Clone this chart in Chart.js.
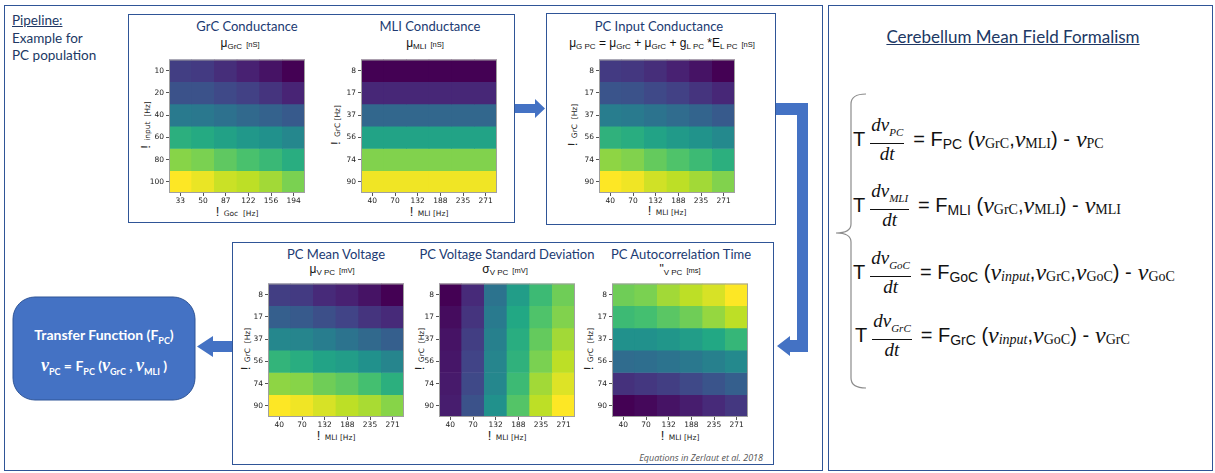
<!DOCTYPE html>
<html>
<head>
<meta charset="utf-8">
<script src="https://cdn.jsdelivr.net/npm/chart.js@4.4.1/dist/chart.umd.min.js"></script>
<style>
  body { margin:0; width:1215px; height:473px; position:relative; overflow:hidden; background:#fff;
         font-family: Lato, "Open Sans", sans-serif; color:#203864; }
  .box { position:absolute; box-sizing:border-box; border:1px solid #2f5597; }
  .txt { position:absolute; white-space:nowrap; }
  .ttl { position:absolute; white-space:nowrap; font-size:13px; color:#203a72; transform:translateX(-50%); }
  .sub { position:absolute; white-space:nowrap; font-size:12px; color:#111; transform:translateX(-50%); font-family:"Liberation Sans", Arial, sans-serif; }
  .sub small { font-size:8px; position:relative; top:2px; }
  .sub .u { font-size:7.5px; position:relative; top:0px; margin-left:4px; }
  .ax { position:absolute; white-space:nowrap; font-size:7.5px; color:#222; font-family:"DejaVu Sans", sans-serif; }
  .ax b { font-weight:normal; font-size:13px; font-family:"Liberation Sans", sans-serif; margin-right:2px; }
  .axx { transform:translateX(-50%); }
  .axy { transform:translate(-50%,-50%) rotate(-90deg); }
  canvas { position:absolute; }
  .eq { position:absolute; display:flex; align-items:center; white-space:nowrap; color:#111;
        font-family:"Liberation Sans", Arial, sans-serif; font-size:20px; }
  .eq .frac { display:inline-flex; flex-direction:column; align-items:center; margin:0 9px 0 5px;
              font-family:"Liberation Serif", serif; font-style:italic; font-size:19px; line-height:20px; }
  .eq .frac .n { border-bottom:1px solid #111; padding:0 1px 1px; }
  .eq .frac sub { font-size:11px; }
  .eq .v { font-family:"Liberation Serif", serif; font-style:italic; font-size:24px; }
  .eq .s { font-family:"Liberation Serif", serif; font-size:14px; position:relative; top:5px; }
  .eq .fs { font-size:14px; position:relative; top:5px; }
  .eq .si { font-family:"Liberation Serif", serif; font-style:italic; font-size:14px; position:relative; top:5px; }
</style>
</head>
<body>

<!-- panels -->
<div class="box" style="left:4px;top:5px;width:819px;height:466px;border-width:1.5px"></div>
<div class="box" style="left:828px;top:5px;width:385px;height:466px;border-width:1.5px"></div>
<div class="box" style="left:128px;top:14px;width:387px;height:209px"></div>
<div class="box" style="left:546px;top:13px;width:230px;height:212px"></div>
<div class="box" style="left:232px;top:242px;width:542px;height:223px"></div>

<div class="txt" style="left:12px;top:12px;font-size:13.5px;line-height:17.5px">
  <u>Pipeline:</u><br>Example for<br>PC population
</div>

<!-- arrows and brace -->
<svg style="position:absolute;left:0;top:0" width="1215" height="473">
  <g fill="#4472c4">
    <polygon points="515,104 535,104 535,99 545,108.5 535,118 535,113 515,113"/>
    <polygon points="776,103 808,103 808,352 790,352 790,356 777,346 790,336 790,340 797,340 797,115 776,115"/>
    <polygon points="232,341 213,341 213,336 197,346.5 213,357 213,352 232,352"/>
  </g>
  <rect x="13" y="297" width="182" height="103" rx="22" ry="22" fill="#4472c4" stroke="#2f5597" stroke-width="1"/>
  <path d="M866 94 Q851 94 851 104 L851 224 Q851 233 836 233 Q851 233 851 242 L851 378 Q851 388 866 388"
        fill="none" stroke="#8c8c8c" stroke-width="1.2"/>
</svg>

<div class="txt" style="left:104px;top:326px;transform:translateX(-50%);color:#fff;font-weight:bold;font-size:14px">
  Transfer Function (F<sub style="font-size:9px">PC</sub>)
</div>
<div class="txt" style="left:104px;top:355px;transform:translateX(-50%);color:#fff;font-weight:bold;font-size:14px">
  <span style="font-family:'Liberation Serif',serif;font-style:italic;font-size:18px">ν</span><sub style="font-size:9px">PC</sub>
  = F<sub style="font-size:9px">PC</sub> (<span style="font-family:'Liberation Serif',serif;font-style:italic;font-size:18px">ν</span><sub style="font-size:9px">GrC</sub>
  , <span style="font-family:'Liberation Serif',serif;font-style:italic;font-size:18px">ν</span><sub style="font-size:9px">MLI</sub> )
</div>

<!-- heatmap titles -->
<div class="ttl" style="left:247px;top:18px">GrC Conductance</div>
<div class="sub" style="left:240px;top:36px">μ<small>GrC</small><span class="u">[nS]</span></div>
<div class="ttl" style="left:430px;top:18px">MLI Conductance</div>
<div class="sub" style="left:425px;top:36px">μ<small>MLI</small><span class="u">[nS]</span></div>
<div class="ttl" style="left:659px;top:18px">PC Input Conductance</div>
<div class="sub" style="left:662px;top:36px">μ<small>G PC</small> = μ<small>GrC</small> + μ<small>GrC</small> + g<small>L PC</small> *E<small>L PC</small><span class="u">[nS]</span></div>
<div class="ttl" style="left:336px;top:246px">PC Mean Voltage</div>
<div class="sub" style="left:332px;top:262px">μ<small>V PC</small><span class="u">[mV]</span></div>
<div class="ttl" style="left:507px;top:246px">PC Voltage Standard Deviation</div>
<div class="sub" style="left:505px;top:262px">σ<small>V PC</small><span class="u">[mV]</span></div>
<div class="ttl" style="left:681px;top:246px">PC Autocorrelation Time</div>
<div class="sub" style="left:680px;top:262px">"<small>V PC</small><span class="u">[ms]</span></div>

<!-- axis titles -->
<div class="ax axx" style="left:237px;top:204px"><b>!</b> Goc&nbsp; [Hz]</div>
<div class="ax axy" style="left:145px;top:125px"><b>!</b> input&nbsp; [Hz]</div>
<div class="ax axx" style="left:429px;top:204px"><b>!</b> MLI [Hz]</div>
<div class="ax axy" style="left:335px;top:125px"><b>!</b> GrC [Hz]</div>
<div class="ax axx" style="left:667px;top:203px"><b>!</b> MLI [Hz]</div>
<div class="ax axy" style="left:572px;top:125px"><b>!</b> GrC&nbsp; [Hz]</div>
<div class="ax axx" style="left:336px;top:428px"><b>!</b> MLI [Hz]</div>
<div class="ax axy" style="left:245px;top:349px"><b>!</b> GrC&nbsp; [Hz]</div>
<div class="ax axx" style="left:507px;top:428px"><b>!</b> MLI [Hz]</div>
<div class="ax axy" style="left:419px;top:349px"><b>!</b> GrC&nbsp; [Hz]</div>
<div class="ax axx" style="left:680px;top:428px"><b>!</b> MLI [Hz]</div>
<div class="ax axy" style="left:588px;top:349px"><b>!</b> GrC&nbsp; [Hz]</div>

<div class="txt" style="left:763px;top:451px;transform:translateX(-100%);font-size:9px;font-style:italic;color:#555;font-family:'Open Sans',sans-serif">Equations in Zerlaut et al. 2018</div>

<!-- right panel -->
<div class="txt" style="left:1013px;top:26px;transform:translateX(-50%);font-size:17px"><u>Cerebellum Mean Field Formalism</u></div>

<div class="eq" style="left:853px;top:115px">
  T<span class="frac"><span class="n">dv<sub>PC</sub></span><span>dt</span></span>
  = F<span class="fs">PC</span>&nbsp;(<span class="v">v</span><span class="s">GrC</span>,<span class="v">v</span><span class="s">MLI</span>) - <span class="v">&nbsp;v</span><span class="s">PC</span>
</div>
<div class="eq" style="left:853px;top:181px">
  T<span class="frac"><span class="n">dv<sub>MLI</sub></span><span>dt</span></span>
  = F<span class="fs">MLI</span>&nbsp;(<span class="v">v</span><span class="s">GrC</span>,<span class="v">v</span><span class="s">MLI</span>) - <span class="v">&nbsp;v</span><span class="s">MLI</span>
</div>
<div class="eq" style="left:853px;top:248px">
  T<span class="frac"><span class="n">dv<sub>GoC</sub></span><span>dt</span></span>
  = F<span class="fs">GoC</span>&nbsp;(<span class="v">v</span><span class="si">input</span>,<span class="v">v</span><span class="s">GrC</span>,<span class="v">v</span><span class="s">GoC</span>) - <span class="v">&nbsp;v</span><span class="s">GoC</span>
</div>
<div class="eq" style="left:855px;top:311px">
  T<span class="frac"><span class="n">dv<sub>GrC</sub></span><span>dt</span></span>
  = F<span class="fs">GrC</span>&nbsp;(<span class="v">v</span><span class="si">input</span>,<span class="v">v</span><span class="s">GoC</span>) - <span class="v">&nbsp;v</span><span class="s">GrC</span>
</div>

<script>
// axis tick labels
const inputRates = ['10', '20', '40', '60', '80', '100'];
const gocRates = ['33', '50', '87', '122', '156', '194'];
const grcRates = ['8', '17', '37', '56', '74', '90'];
const mliRates = ['40', '70', '132', '188', '235', '271'];

// normalised colour levels (0..1), one row per y tick, top to bottom
const grcConductance = [
  [0.18, 0.17, 0.13, 0.09, 0.05, 0.00],
  [0.25, 0.25, 0.22, 0.19, 0.15, 0.10],
  [0.41, 0.40, 0.37, 0.34, 0.31, 0.28],
  [0.63, 0.61, 0.57, 0.53, 0.50, 0.46],
  [0.82, 0.80, 0.75, 0.71, 0.67, 0.62],
  [1.00, 0.97, 0.92, 0.90, 0.86, 0.80]
];
const mliConductance = [
  [0.00, 0.00, 0.00, 0.00, 0.00, 0.00],
  [0.11, 0.11, 0.11, 0.11, 0.11, 0.11],
  [0.33, 0.33, 0.33, 0.33, 0.33, 0.33],
  [0.58, 0.58, 0.58, 0.58, 0.58, 0.58],
  [0.81, 0.81, 0.81, 0.81, 0.81, 0.81],
  [0.98, 0.98, 0.98, 0.98, 0.98, 0.98]
];
const pcInputConductance = [
  [0.17, 0.16, 0.13, 0.09, 0.05, 0.00],
  [0.26, 0.25, 0.22, 0.19, 0.15, 0.11],
  [0.42, 0.41, 0.38, 0.35, 0.32, 0.28],
  [0.64, 0.62, 0.58, 0.54, 0.51, 0.47],
  [0.83, 0.81, 0.76, 0.72, 0.68, 0.63],
  [1.00, 0.98, 0.93, 0.90, 0.86, 0.81]
];
const pcMeanVoltage = [
  [0.18, 0.17, 0.12, 0.09, 0.05, 0.00],
  [0.30, 0.28, 0.24, 0.20, 0.15, 0.12],
  [0.46, 0.45, 0.42, 0.38, 0.34, 0.30],
  [0.65, 0.62, 0.58, 0.55, 0.50, 0.45],
  [0.83, 0.82, 0.78, 0.75, 0.70, 0.63],
  [1.00, 0.98, 0.94, 0.90, 0.87, 0.82]
];
const pcVoltageStd = [
  [0.00, 0.12, 0.38, 0.55, 0.68, 0.78],
  [0.03, 0.15, 0.41, 0.60, 0.72, 0.81],
  [0.05, 0.18, 0.43, 0.62, 0.76, 0.86],
  [0.06, 0.20, 0.45, 0.64, 0.80, 0.90],
  [0.07, 0.22, 0.46, 0.68, 0.86, 0.95],
  [0.08, 0.25, 0.50, 0.73, 0.90, 1.00]
];
const pcAutocorrTime = [
  [0.78, 0.80, 0.86, 0.90, 0.94, 1.00],
  [0.68, 0.70, 0.74, 0.78, 0.84, 0.90],
  [0.50, 0.50, 0.52, 0.55, 0.60, 0.66],
  [0.35, 0.36, 0.38, 0.40, 0.43, 0.47],
  [0.14, 0.16, 0.18, 0.22, 0.26, 0.30],
  [0.00, 0.02, 0.05, 0.08, 0.12, 0.16]
];

const viridisStops = ['#440154', '#482475', '#414487', '#355f8d', '#2a788e', '#21918c',
                      '#22a884', '#44bf70', '#7ad151', '#bddf26', '#fde725'];

function hexToRgb(h) {
  return [1, 3, 5].map(i => parseInt(h.slice(i, i + 2), 16));
}

function viridis(t) {
  t = Math.max(0, Math.min(1, t)) * (viridisStops.length - 1);
  const i = Math.min(Math.floor(t), viridisStops.length - 2);
  const f = t - i;
  const a = hexToRgb(viridisStops[i]), b = hexToRgb(viridisStops[i + 1]);
  const c = a.map((v, k) => Math.round(v + (b[k] - v) * f));
  return `rgb(${c[0]}, ${c[1]}, ${c[2]})`;
}

// thin frame round the plot area, like matplotlib spines
const frame = {
  id: 'frame',
  afterDraw(chart) {
    const { ctx, chartArea: a } = chart;
    ctx.save();
    ctx.strokeStyle = '#a0a0a0';
    ctx.lineWidth = 1;
    ctx.strokeRect(a.left + 0.5, a.top + 0.5, a.right - a.left - 1, a.bottom - a.top - 1);
    ctx.restore();
  }
};

const SIZE = 136, YW = 28, XH = 18, PAD = 4;

function heatmap(left, top, xLabels, yLabels, values) {
  const canvas = document.createElement('canvas');
  canvas.width = SIZE + YW + PAD;
  canvas.height = SIZE + XH + PAD;
  canvas.style.left = (left - YW) + 'px';
  canvas.style.top = (top - PAD) + 'px';
  document.body.appendChild(canvas);

  const tickFont = { family: 'DejaVu Sans', size: 7.5 };
  return new Chart(canvas, {
    type: 'bar',
    data: {
      labels: xLabels,
      datasets: values.map((row, r) => ({
        data: row.map(() => [r, r + 1]),
        backgroundColor: row.map(v => viridis(v)),
        borderWidth: 0,
        grouped: false,
        barPercentage: 1,
        categoryPercentage: 1
      }))
    },
    options: {
      responsive: false,
      animation: false,
      layout: { padding: { top: PAD, right: PAD, left: 0, bottom: 0 } },
      plugins: { legend: { display: false }, tooltip: { enabled: false } },
      scales: {
        x: {
          grid: { display: true, drawOnChartArea: false, offset: false, tickLength: 3, color: '#555' },
          border: { display: false },
          ticks: { font: tickFont, color: '#222', padding: 1, maxRotation: 0 },
          afterFit: s => { s.height = XH; }
        },
        y: {
          type: 'linear',
          min: 0,
          max: yLabels.length,
          reverse: true,
          afterBuildTicks: s => { s.ticks = yLabels.map((_, i) => ({ value: i + 0.5 })); },
          grid: { display: true, drawOnChartArea: false, tickLength: 3, color: '#555' },
          border: { display: false },
          ticks: { font: tickFont, color: '#222', padding: 2, callback: v => yLabels[Math.floor(v)] },
          afterFit: s => { s.width = YW; }
        }
      }
    },
    plugins: [frame]
  });
}

heatmap(169, 57, gocRates, inputRates, grcConductance);
heatmap(361, 57, mliRates, grcRates, mliConductance);
heatmap(599, 57, mliRates, grcRates, pcInputConductance);
heatmap(268, 281, mliRates, grcRates, pcMeanVoltage);
heatmap(439, 281, mliRates, grcRates, pcVoltageStd);
heatmap(612, 281, mliRates, grcRates, pcAutocorrTime);
</script>
</body>
</html>
